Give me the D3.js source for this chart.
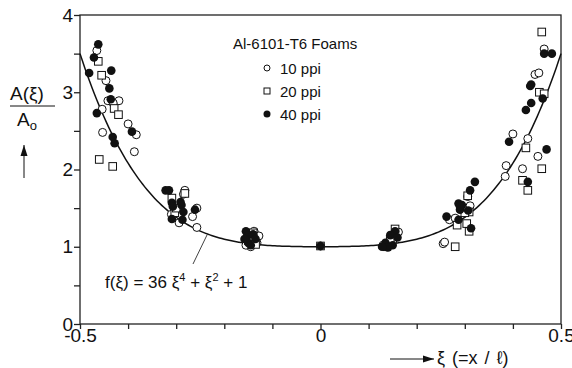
<!DOCTYPE html>
<html>
<head>
<meta charset="utf-8">
<script src="https://cdn.jsdelivr.net/npm/d3@7"></script>
<style>
  body { margin: 0; background: #fff; }
  text { font-family: "Liberation Sans", Arial, Helvetica, sans-serif; fill: #111; }
</style>
</head>
<body>
<svg id="chart" width="572" height="368"></svg>
<script>
// [xi, A(xi)/Ao]
const ppi10 = [
  [-0.465, 3.54], [-0.446, 3.15], [-0.442, 2.89], [-0.419, 2.89], [-0.431, 2.86],
  [-0.454, 2.78], [-0.400, 2.59], [-0.383, 2.45], [-0.453, 2.48], [-0.387, 2.23],
  [-0.282, 1.73], [-0.285, 1.68], [-0.302, 1.48], [-0.257, 1.50], [-0.266, 1.39],
  [-0.294, 1.31], [-0.257, 1.25], [-0.310, 1.42],
  [-0.138, 1.20], [-0.128, 1.14], [-0.145, 1.00], [-0.132, 1.05], [-0.155, 1.02],
  [0, 1.01],
  [0.162, 1.19], [0.150, 1.06], [0.130, 1.02],
  [0.306, 1.65], [0.311, 1.53], [0.268, 1.35], [0.280, 1.37], [0.255, 1.04], [0.258, 1.06],
  [0.384, 1.91], [0.465, 3.56], [0.446, 3.23], [0.454, 3.25], [0.400, 2.46],
  [0.431, 2.40], [0.452, 2.17], [0.386, 2.05], [0.420, 2.01]
];
const ppi20 = [
  [-0.462, 3.40], [-0.455, 3.22], [-0.429, 2.79], [-0.420, 2.71], [-0.460, 2.13], [-0.432, 2.04],
  [-0.282, 1.69], [-0.309, 1.63], [-0.303, 1.44], [-0.300, 1.50],
  [-0.140, 1.18], [-0.150, 1.08], [-0.135, 1.03],
  [0, 1.01],
  [0.155, 1.23], [0.145, 1.08], [0.138, 1.00],
  [0.306, 1.66], [0.309, 1.45], [0.284, 1.28], [0.304, 1.30], [0.309, 1.20], [0.280, 1.00], [0.300, 1.44],
  [0.460, 3.78], [0.455, 3.00], [0.465, 2.98], [0.427, 2.28], [0.460, 2.01], [0.420, 1.86], [0.431, 1.73]
];
const ppi40 = [
  [-0.462, 3.62], [-0.471, 3.45], [-0.481, 3.25], [-0.435, 3.28], [-0.439, 3.05],
  [-0.436, 2.91], [-0.465, 2.73], [-0.392, 2.49], [-0.432, 2.42], [-0.428, 2.34],
  [-0.322, 1.73], [-0.315, 1.73], [-0.309, 1.57], [-0.291, 1.58], [-0.289, 1.54],
  [-0.307, 1.52], [-0.285, 1.45], [-0.261, 1.48], [-0.309, 1.36], [-0.287, 1.35],
  [-0.155, 1.20], [-0.152, 1.14], [-0.140, 1.16], [-0.150, 1.05], [-0.135, 1.10],
  [-0.158, 1.10], [-0.145, 1.02],
  [0, 1.01],
  [0.155, 1.20], [0.145, 1.15], [0.135, 1.05], [0.150, 1.02], [0.140, 0.99], [0.160, 1.12], [0.128, 1.00],
  [0.321, 1.84], [0.311, 1.73], [0.287, 1.56], [0.294, 1.54], [0.290, 1.48], [0.307, 1.47],
  [0.262, 1.39], [0.287, 1.35], [0.313, 1.24], [0.290, 1.52],
  [0.465, 3.50], [0.481, 3.50], [0.438, 3.10], [0.436, 3.08], [0.462, 2.92],
  [0.438, 2.86], [0.427, 2.77], [0.392, 2.36], [0.470, 2.26], [0.431, 1.84]
];

const xTicks = [-0.5, -0.4, -0.3, -0.2, -0.1, 0, 0.1, 0.2, 0.3, 0.4, 0.5];
const xLabels = [-0.5, 0, 0.5];
const yTicks = [0, 0.5, 1, 1.5, 2, 2.5, 3, 3.5, 4];
const yLabels = [0, 1, 2, 3, 4];
const legendItems = ['10 ppi', '20 ppi', '40 ppi'];

// fitted curve f(xi) = 36 xi^4 + xi^2 + 1
const fit = (xi) => 36 * xi ** 4 + xi ** 2 + 1;

const svg = d3.select('#chart');
const x = d3.scaleLinear().domain([-0.5, 0.5]).range([80, 561]);
const y = d3.scaleLinear().domain([0, 4]).range([324, 15]);

svg.append('defs')
  .append('marker')
  .attr('id', 'arrow')
  .attr('viewBox', '0 0 10 10')
  .attr('refX', 10)
  .attr('refY', 5)
  .attr('markerWidth', 11)
  .attr('markerHeight', 11)
  .attr('markerUnits', 'userSpaceOnUse')
  .attr('orient', 'auto')
  .append('path')
  .attr('d', 'M0,1.8L10,5L0,8.2z')
  .attr('fill', '#111');

// frame
svg.append('rect')
  .attr('x', x(-0.5))
  .attr('y', y(4))
  .attr('width', x(0.5) - x(-0.5))
  .attr('height', y(0) - y(4))
  .attr('fill', 'none')
  .attr('stroke', '#222')
  .attr('stroke-width', 1.3);

const xAxis = svg.append('g')
  .attr('transform', `translate(0,${y(0)})`)
  .call(d3.axisBottom(x).tickValues(xTicks).tickSize(5)
    .tickFormat((d) => (xLabels.includes(d) ? d3.format('')(d).replace('−', '-') : '')));

const yAxis = svg.append('g')
  .attr('transform', `translate(${x(-0.5)},0)`)
  .call(d3.axisLeft(y).tickValues(yTicks).tickSize(6)
    .tickFormat((d) => (yLabels.includes(d) ? d : '')));

[xAxis, yAxis].forEach((g) => {
  g.select('.domain').remove();
  g.selectAll('line').attr('stroke', '#222').attr('stroke-width', 1.3);
  g.selectAll('text')
    .attr('fill', '#111')
    .style('font-family', '"Liberation Sans", Arial, sans-serif')
    .style('font-size', '19px');
});
xAxis.selectAll('text').attr('dy', '0.55em');
yAxis.selectAll('text').attr('x', -7);

// curve
svg.append('path')
  .datum(d3.range(-0.5, 0.5001, 0.005))
  .attr('fill', 'none')
  .attr('stroke', '#111')
  .attr('stroke-width', 1.5)
  .attr('d', d3.line().x((d) => x(d)).y((d) => y(fit(d))));

// points
svg.append('g')
  .selectAll('circle')
  .data(ppi10)
  .join('circle')
  .attr('cx', (d) => x(d[0]))
  .attr('cy', (d) => y(d[1]))
  .attr('r', 4)
  .attr('fill', '#fff')
  .attr('stroke', '#111')
  .attr('stroke-width', 1);

svg.append('g')
  .selectAll('rect')
  .data(ppi20)
  .join('rect')
  .attr('x', (d) => x(d[0]) - 3.8)
  .attr('y', (d) => y(d[1]) - 3.8)
  .attr('width', 7.6)
  .attr('height', 7.6)
  .attr('fill', '#fff')
  .attr('stroke', '#111')
  .attr('stroke-width', 1);

svg.append('g')
  .selectAll('circle')
  .data(ppi40)
  .join('circle')
  .attr('cx', (d) => x(d[0]))
  .attr('cy', (d) => y(d[1]))
  .attr('r', 4.3)
  .attr('fill', '#111');

// legend
const legend = svg.append('g').attr('transform', 'translate(233,49)');
legend.append('text').attr('x', 0).attr('y', 0).style('font-size', '15px').text('Al-6101-T6 Foams');
legendItems.forEach((label, i) => {
  const row = legend.append('g').attr('transform', `translate(34,${19 + i * 23})`);
  if (i === 0) row.append('circle').attr('r', 3).attr('fill', '#fff').attr('stroke', '#111');
  if (i === 1) row.append('rect').attr('x', -3).attr('y', -3).attr('width', 6).attr('height', 6)
    .attr('fill', '#fff').attr('stroke', '#111');
  if (i === 2) row.append('circle').attr('r', 3.5).attr('fill', '#111');
  row.append('text').attr('x', 13).attr('y', 5.5).style('font-size', '15px').text(label);
});

// y label: A(xi) / Ao with arrow
svg.append('text').attr('x', 10).attr('y', 100).style('font-size', '19px').text('A(ξ)');
svg.append('line').attr('x1', 10).attr('x2', 55).attr('y1', 106).attr('y2', 106)
  .attr('stroke', '#111').attr('stroke-width', 1);
const ao = svg.append('text').attr('x', 17).attr('y', 126).style('font-size', '19px');
ao.append('tspan').text('A');
ao.append('tspan').attr('dy', 4).style('font-size', '13px').text('o');
svg.append('line').attr('x1', 24).attr('x2', 24).attr('y1', 178).attr('y2', 145)
  .attr('stroke', '#111').attr('stroke-width', 1).attr('marker-end', 'url(#arrow)');

// x label with arrow
svg.append('line').attr('x1', 390).attr('x2', 434).attr('y1', 359).attr('y2', 359)
  .attr('stroke', '#111').attr('stroke-width', 1).attr('marker-end', 'url(#arrow)');
svg.append('text').attr('x', 437).attr('y', 364).style('font-size', '18px').style('word-spacing', '2px')
  .text('ξ (=x / ℓ)');

// fit annotation
svg.append('line').attr('x1', 193).attr('x2', 207).attr('y1', 264).attr('y2', 235)
  .attr('stroke', '#111').attr('stroke-width', 0.8);
const note = svg.append('text').attr('x', 105).attr('y', 288).style('font-size', '17px');
note.append('tspan').text('f(ξ) = 36 ξ');
note.append('tspan').attr('dy', -7).style('font-size', '11px').text('4');
note.append('tspan').attr('dy', 7).text(' + ξ');
note.append('tspan').attr('dy', -7).style('font-size', '11px').text('2');
note.append('tspan').attr('dy', 7).text(' + 1');
</script>
</body>
</html>
